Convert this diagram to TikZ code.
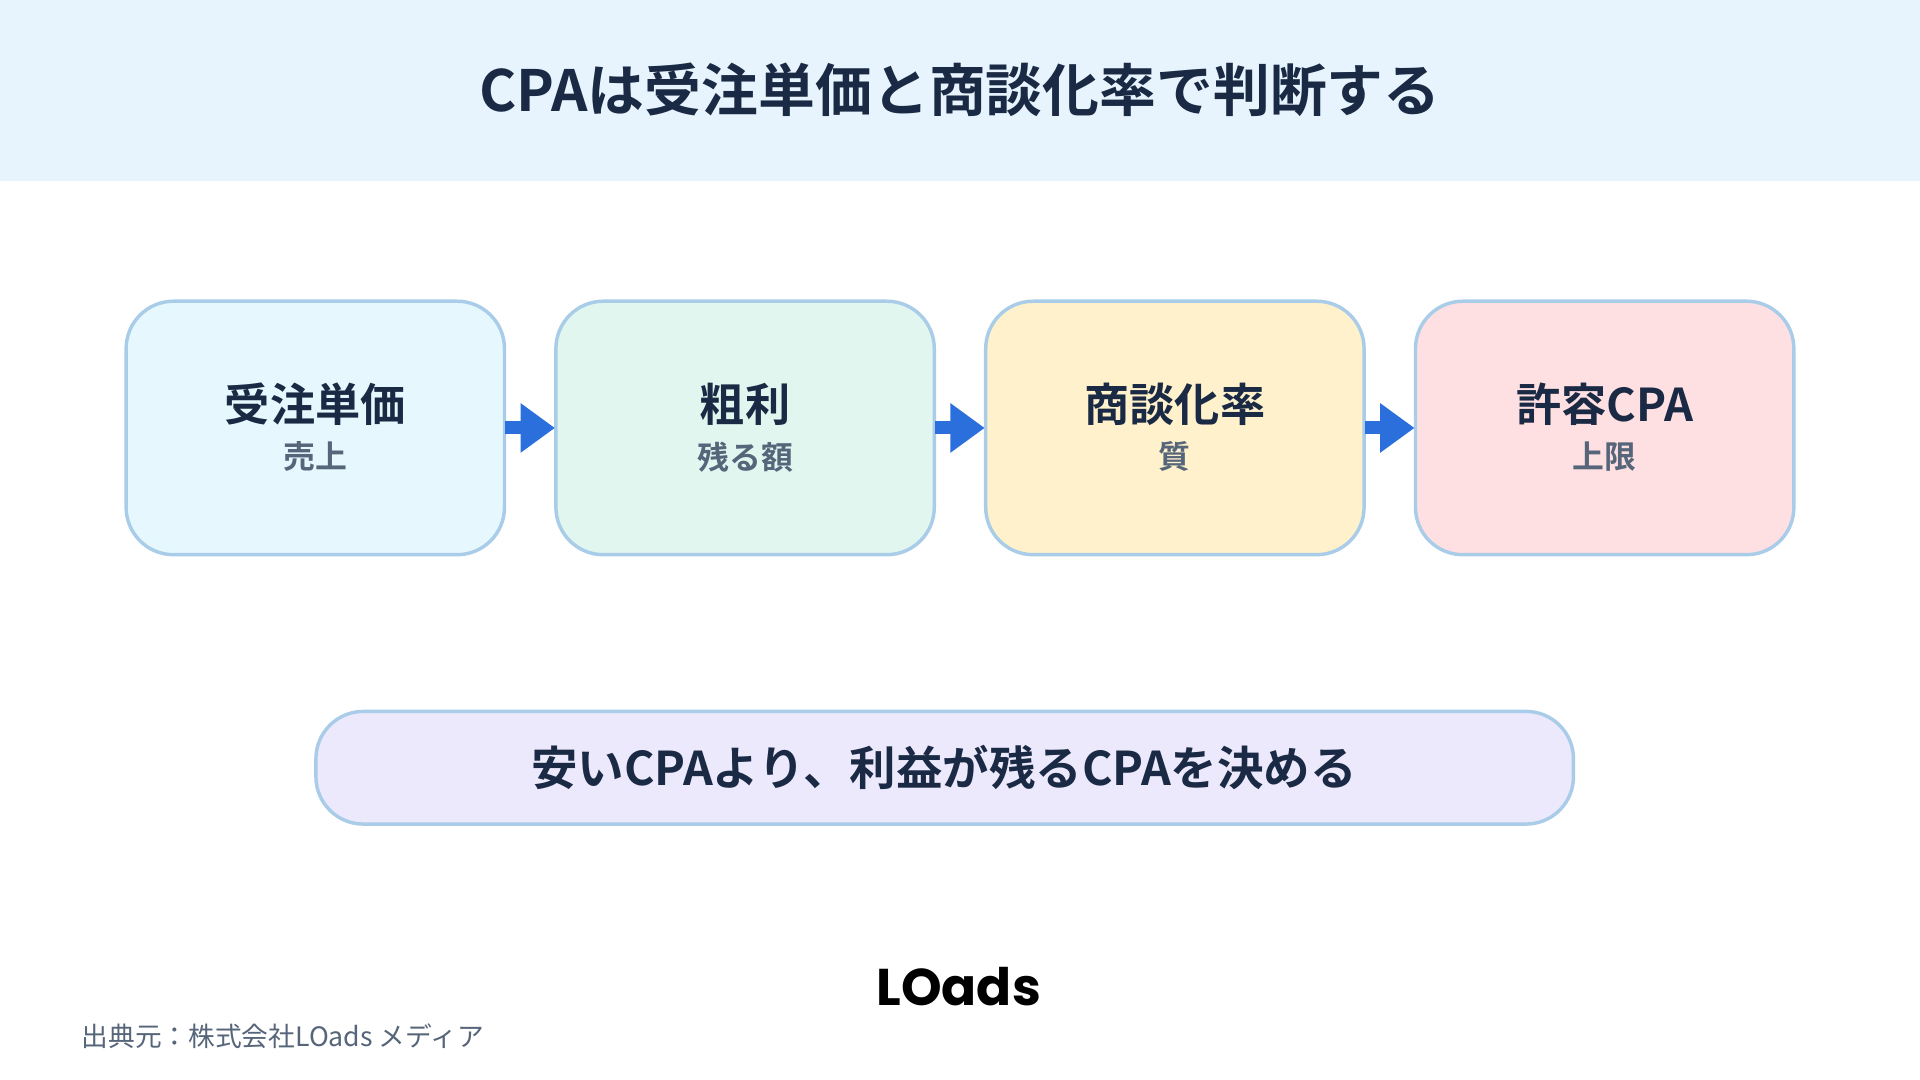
\documentclass[tikz,border=0pt]{standalone}
\usepackage{fontspec}
\setmainfont{Noto Sans CJK JP}
\newfontfamily\jpb{Noto Sans CJK JP}[BoldFont=* Bold]
\newfontfamily\logof{Poppins}[BoldFont=* Bold]
\usetikzlibrary{arrows.meta}
\definecolor{navy}{HTML}{1B2A44}
\definecolor{subg}{HTML}{56657A}
\definecolor{bord}{HTML}{A9CDE8}
\definecolor{arr}{HTML}{2A6FDB}
\definecolor{band}{HTML}{E8F4FD}
\definecolor{lav}{HTML}{EDE9FD}
\begin{document}
\begin{tikzpicture}[x=0.01cm,y=-0.01cm,
 box/.style={draw=bord,line width=0.8pt,rounded corners=11pt},
 ttl/.style={font=\jpb\bfseries\fontsize{10.5}{12}\selectfont,text=navy},
 sub/.style={font=\jpb\bfseries\fontsize{7.4}{9}\selectfont,text=subg},
 con/.style={arr,line width=3pt,-{Triangle[length=8pt,width=11pt]}}]
\useasboundingbox (0,0) rectangle (1568,882);
\fill[white] (0,0) rectangle (1568,882);
\fill[band] (0,0) rectangle (1568,148);
\node[ttl,font=\jpb\bfseries\fontsize{13.2}{15}\selectfont] (title) at (784,73) {CPAは受注単価と商談化率で判断する};
\foreach \n/\x/\c/\t/\s in {a/103/E6F8FE/受注単価/売上, b/454/E0F6EF/粗利/残る額, c/805/FEF1CC/商談化率/質, d/1156/FEE0E3/許容CPA/上限}{
 \definecolor{fc}{HTML}{\c}
 \draw[box,fill=fc] (\x,246) rectangle ++(309,207);
 \node (\n) at (\x+154.5,349.5) [minimum width=3.09cm,minimum height=2.07cm] {};
 \node[ttl] (\n t) at (\x+154.5,330) {\t};
 \node[sub] (\n s) at (\x+154.5,373) {\s};
}
\draw[con] (a.east) -- (b.west);
\draw[con] (b.east) -- (c.west);
\draw[con] (c.east) -- (d.west);
\draw[box,fill=lav] (258,581) rectangle (1285,673);
\node[ttl,font=\jpb\bfseries\fontsize{10.8}{12}\selectfont] (msg) at (771,627) {安いCPAより、利益が残るCPAを決める};
\node[font=\logof\bfseries\fontsize{12}{14}\selectfont,text=black] (logo) at (783,806) {LOads};
\node[anchor=west,inner sep=0pt,font=\fontsize{6.2}{7}\selectfont,text=subg] (src) at (66,846) {出典元：株式会社LOads メディア};
\end{tikzpicture}
\end{document}
